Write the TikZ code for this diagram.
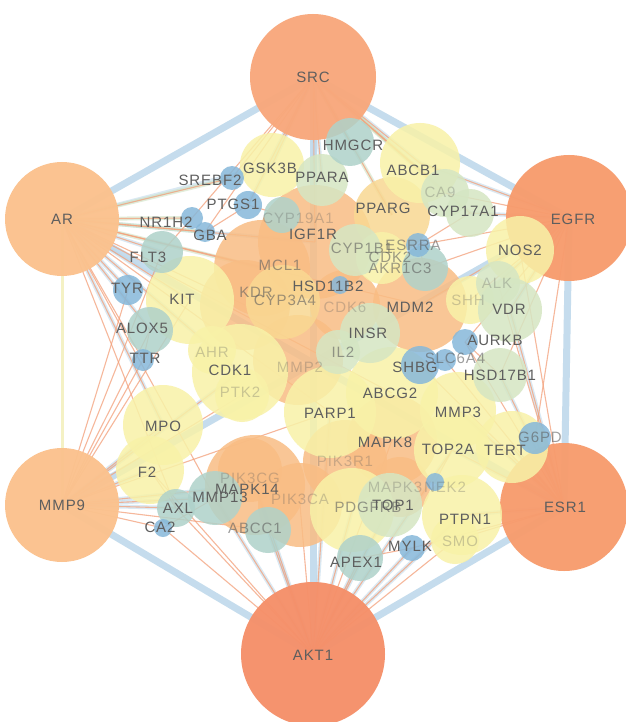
\documentclass[tikz,border=0pt]{standalone}
\usepackage{fontspec}
\setmainfont[LetterSpace=6.0]{Liberation Sans}
\pgfdeclarelayer{bglayer}
\pgfdeclarelayer{edgelayer}
\pgfdeclarelayer{textlayer}
\pgfsetlayers{bglayer,edgelayer,main,textlayer}
\definecolor{hubR}{HTML}{F5906A}
\definecolor{hubO}{HTML}{F79C6E}
\definecolor{hubS}{HTML}{F8A87C}
\definecolor{hubL}{HTML}{FBC28E}
\definecolor{orC}{HTML}{F9BD84}
\definecolor{yoC}{HTML}{F9D892}
\definecolor{yeC}{HTML}{F8F2A8}
\definecolor{grC}{HTML}{D5E6C3}
\definecolor{tlC}{HTML}{AFD2CA}
\definecolor{blC}{HTML}{86B8DA}
\definecolor{txC}{HTML}{5E5E5E}
\definecolor{eBl}{HTML}{BCD7EA}
\definecolor{eOr}{HTML}{F3A07A}
\definecolor{eGr}{HTML}{CBE0BE}
\definecolor{eYe}{HTML}{F3F0BE}
\tikzset{
 nd/.style={circle,inner sep=0pt,draw=none,fill opacity=0.85},
 hub/.style={circle,inner sep=0pt,draw=none,fill opacity=0.97},
 lbl/.style={text=txC,font=\fontsize{15}{15}\selectfont,inner sep=0pt},
 flbl/.style={lbl,text opacity=0.3},
 hlbl/.style={lbl,text opacity=0.6},
 hubedge/.style={draw=eBl,line width=7pt,draw opacity=0.85},
 yeedge/.style={draw=eYe,line width=3pt,draw opacity=0.9},
 oredge/.style={draw=eOr,line width=1.1pt,draw opacity=0.75},
 bledge/.style={draw=eBl,line width=4pt,draw opacity=0.55},
 gredge/.style={draw=eGr,line width=4pt,draw opacity=0.55},
}
\newcommand\cn[5]{\node[nd,fill=#5,minimum size={2*#4pt}] (#1) at (#2,#3) {};}
\newcommand\lb[4][lbl]{\node[#1] (#2-t) at (#3,#4) {#2};}
\begin{document}
\begin{tikzpicture}[x=1pt,y=-1pt]
\useasboundingbox (0,0) rectangle (625,722);
\begin{pgfonlayer}{bglayer}
\fill[white] (0,0) rectangle (625,722);
\end{pgfonlayer}
% hubs
\node[hub,fill=hubS,minimum size=126pt] (SRC) at (313,77) {};
\node[hub,fill=hubL,minimum size=114pt] (AR) at (62,219) {};
\node[hub,fill=hubO,minimum size=126pt] (EGFR) at (569,218) {};
\node[hub,fill=hubL,minimum size=114pt] (MMP9) at (62,505) {};
\node[hub,fill=hubO,minimum size=128pt] (ESR1) at (564,507) {};
\node[hub,fill=hubR,minimum size=144pt] (AKT1) at (313,654) {};
% orange
\cn{IGF1R}{315}{242}{57}{orC}
\cn{MCL1}{262}{268}{48}{orC}
\cn{KDR}{245}{305}{45}{orC}
\cn{MMP2}{298}{360}{45}{orC}
\cn{CDK6}{345}{305}{35}{orC}
\cn{MDM2}{420}{305}{47}{orC}
\cn{MAPK8}{392}{440}{45}{orC}
\cn{PIK3R1}{345}{462}{42}{orC}
\cn{PIK3CA}{300}{505}{42}{orC}
\cn{PIK3CG}{250}{470}{32}{orC}
\cn{MAPK14}{255}{485}{50}{orC}
\cn{MAPK3}{400}{487}{30}{orC}
% yellow-orange
\cn{PPARG}{392}{215}{38}{yoC}
\cn{CYP3A4}{283}{302}{37}{yoC}
% yellow
\cn{GSK3B}{272}{165}{32}{yeC}
\cn{ABCB1}{420}{163}{40}{yeC}
\cn{CDK2}{382}{258}{26}{yeC}
\cn{KIT}{190}{300}{44}{yeC}
\cn{SHH}{470}{300}{24}{yeC}
\cn{NOS2}{520}{250}{34}{yeC}
\cn{AHR}{212}{350}{24}{yeC}
\cn{CDK1}{240}{372}{48}{yeC}
\cn{PTK2}{242}{395}{27}{yeC}
\cn{ABCG2}{392}{393}{46}{yeC}
\cn{PARP1}{330}{412}{46}{yeC}
\cn{MPO}{163}{425}{40}{yeC}
\cn{MMP3}{458}{410}{38}{yeC}
\cn{TOP2A}{452}{450}{38}{yeC}
\cn{TERT}{512}{447}{36}{yeC}
\cn{F2}{150}{470}{34}{yeC}
\cn{PDGFRB}{352}{510}{42}{yeC}
\cn{PTPN1}{462}{515}{40}{yeC}
\cn{SMO}{455}{540}{24}{yeC}
% green
\cn{PPARA}{322}{180}{26}{grC}
\cn{CA9}{445}{193}{24}{grC}
\cn{CYP17A1}{470}{213}{24}{grC}
\cn{CYP1B1}{355}{250}{26}{grC}
\cn{ALK}{498}{283}{22}{grC}
\cn{VDR}{510}{310}{32}{grC}
\cn{INSR}{370}{333}{30}{grC}
\cn{IL2}{338}{352}{22}{grC}
\cn{HSD17B1}{500}{375}{27}{grC}
\cn{TOP1}{390}{505}{32}{grC}
% teal
\cn{HMGCR}{350}{142}{24}{tlC}
\cn{CYP19A1}{282}{215}{18}{tlC}
\cn{AKR1C3}{425}{268}{23}{tlC}
\cn{FLT3}{162}{252}{21}{tlC}
\cn{ALOX5}{150}{330}{23}{tlC}
\cn{MMP13}{215}{498}{27}{tlC}
\cn{AXL}{176}{508}{19}{tlC}
\cn{ABCC1}{268}{530}{23}{tlC}
\cn{APEX1}{360}{558}{23}{tlC}
% blue
\cn{SREBF2}{232}{178}{12}{blC}
\cn{PTGS1}{248}{205}{14}{blC}
\cn{NR1H2}{192}{218}{11}{blC}
\cn{GBA}{205}{232}{10}{blC}
\cn{TYR}{128}{290}{15}{blC}
\cn{TTR}{143}{360}{11}{blC}
\cn{HSD11B2}{340}{285}{9}{blC}
\cn{ESRRA}{418}{245}{12}{blC}
\cn{AURKB}{465}{342}{13}{blC}
\cn{SLC6A4}{445}{360}{11}{blC}
\cn{SHBG}{420}{365}{19}{blC}
\cn{G6PD}{535}{438}{16}{blC}
\cn{MYLK}{412}{548}{13}{blC}
\cn{CA2}{163}{528}{9}{blC}
\cn{NEK2}{435}{482}{9}{blC}
% edges
\begin{pgfonlayer}{edgelayer}
\draw[yeedge] (AR.center) -- (MMP9.center);
\foreach \a/\b in {SRC/AR,SRC/EGFR,EGFR/ESR1,ESR1/AKT1,AKT1/MMP9,SRC/AKT1,AR/ESR1,EGFR/MMP9}
  \draw[hubedge] (\a.center) -- (\b.center);
\foreach \t in {KIT,FLT3,TYR,ALOX5,GSK3B,IGF1R,CDK1,MPO}
  \draw[bledge] (AR.center) -- (\t.center);
\foreach \t in {NR1H2,GBA,SREBF2,MCL1}
  \draw[gredge] (AR.center) -- (\t.center);
\foreach \t in {F2,MMP13,AXL,MPO,CDK1,MAPK14}
  \draw[bledge] (MMP9.center) -- (\t.center);
\foreach \t in {APEX1,MYLK,PTPN1,TOP1,PDGFRB,MAPK14,ABCC1,MMP13,PARP1,TOP2A}
  \draw[bledge] (AKT1.center) -- (\t.center);
\foreach \t in {TERT,G6PD,MMP3,HSD17B1,PTPN1,TOP2A,VDR}
  \draw[bledge] (ESR1.center) -- (\t.center);
\foreach \t in {NOS2,VDR,CYP17A1,ABCB1,ALK}
  \draw[bledge] (EGFR.center) -- (\t.center);
\foreach \t in {HMGCR,GSK3B,PPARA,ABCB1,IGF1R,PTGS1}
  \draw[bledge] (SRC.center) -- (\t.center);
\foreach \t in {CA9,PPARG,CYP17A1}
  \draw[gredge] (SRC.center) -- (\t.center);
\foreach \t in {FLT3,TYR,ALOX5,TTR,GBA,NR1H2,KIT,CDK1,MPO,MCL1,KDR,IGF1R,MDM2,PARP1,ABCG2,MMP13,AXL,SREBF2}
  \draw[oredge] (AR.center) -- (\t.center);
\foreach \t in {F2,AXL,CA2,MMP13,MPO,TTR,ALOX5,TYR,FLT3,CDK1,PARP1,MAPK14,ABCC1,KIT,PTK2}
  \draw[oredge] (MMP9.center) -- (\t.center);
\foreach \t in {APEX1,MYLK,ABCC1,MAPK14,PDGFRB,TOP1,PARP1,MMP13,AXL,CA2,PTPN1,SMO,TOP2A,MAPK8,PIK3CA,F2}
  \draw[oredge] (AKT1.center) -- (\t.center);
\foreach \t in {G6PD,TERT,HSD17B1,PTPN1,TOP2A,MMP3,AURKB,SHBG,SLC6A4,VDR,NOS2,ALK,SMO,MYLK}
  \draw[oredge] (ESR1.center) -- (\t.center);
\foreach \t in {NOS2,ALK,VDR,CYP17A1,CA9,ESRRA,AKR1C3,MDM2,AURKB,HSD17B1,G6PD,ABCB1,SHH}
  \draw[oredge] (EGFR.center) -- (\t.center);
\foreach \t in {HMGCR,GSK3B,PPARA,ABCB1,PPARG,IGF1R,CA9,SREBF2,PTGS1,CYP17A1,NR1H2,GBA}
  \draw[oredge] (SRC.center) -- (\t.center);
\foreach \a/\b in {PTGS1/CYP19A1,GBA/PTGS1,NR1H2/FLT3,ESRRA/AKR1C3,ESRRA/CYP17A1,CA2/MMP13,AXL/F2,TTR/ALOX5,SHBG/SLC6A4,AURKB/HSD17B1,NEK2/TOP2A,MYLK/APEX1}
  \draw[oredge] (\a.center) -- (\b.center);
\end{pgfonlayer}
% labels
\begin{pgfonlayer}{textlayer}
\lb{SRC}{313}{77}
\lb{AR}{62}{219}
\lb{EGFR}{573}{219}
\lb{MMP9}{62}{505}
\lb{ESR1}{565}{507}
\lb{AKT1}{313}{655}
\lb{HMGCR}{353}{145}
\lb{GSK3B}{270}{168}
\lb{PPARA}{322}{177}
\lb{ABCB1}{413}{170}
\lb{SREBF2}{210}{180}
\lb{PTGS1}{233}{204}
\lb[flbl]{CA9}{440}{192}
\lb{CYP17A1}{463}{211}
\lb{PPARG}{383}{208}
\lb{IGF1R}{313}{234}
\lb{NR1H2}{166}{222}
\lb{GBA}{210}{235}
\lb[flbl]{CYP19A1}{298}{218}
\lb[hlbl]{CYP1B1}{362}{248}
\lb[hlbl]{CDK2}{390}{257}
\lb[hlbl]{ESRRA}{413}{245}
\lb[hlbl]{AKR1C3}{400}{268}
\lb{FLT3}{148}{257}
\lb{NOS2}{520}{250}
\lb{TYR}{127}{288}
\lb{KIT}{182}{299}
\lb[hlbl]{MCL1}{280}{265}
\lb[hlbl]{KDR}{256}{292}
\lb[hlbl]{CYP3A4}{285}{300}
\lb{HSD11B2}{328}{286}
\lb[flbl]{ALK}{497}{283}
\lb[flbl]{SHH}{468}{300}
\lb{VDR}{509}{309}
\lb{MDM2}{410}{307}
\lb[flbl]{CDK6}{345}{307}
\lb{INSR}{368}{333}
\lb[hlbl]{IL2}{343}{352}
\lb{AURKB}{495}{340}
\lb{ALOX5}{142}{328}
\lb{TTR}{145}{358}
\lb[flbl]{AHR}{212}{352}
\lb{CDK1}{230}{370}
\lb[flbl]{MMP2}{300}{367}
\lb[hlbl]{SLC6A4}{455}{358}
\lb{SHBG}{415}{367}
\lb{HSD17B1}{500}{375}
\lb[flbl]{PTK2}{240}{392}
\lb{ABCG2}{390}{393}
\lb{PARP1}{330}{413}
\lb{MPO}{163}{426}
\lb{MMP3}{458}{412}
\lb{MAPK8}{385}{442}
\lb{TOP2A}{448}{449}
\lb{TERT}{505}{450}
\lb[hlbl]{G6PD}{540}{437}
\lb{F2}{147}{472}
\lb[flbl]{PIK3CG}{250}{478}
\lb[flbl]{PIK3R1}{345}{461}
\lb{MAPK14}{247}{489}
\lb[flbl]{PIK3CA}{300}{499}
\lb[flbl]{MAPK3}{395}{487}
\lb[flbl]{NEK2}{445}{487}
\lb[hlbl]{PDGFRB}{368}{507}
\lb{TOP1}{393}{505}
\lb{PTPN1}{465}{519}
\lb[flbl]{SMO}{460}{541}
\lb{MYLK}{410}{546}
\lb{APEX1}{356}{562}
\lb{MMP13}{220}{497}
\lb{AXL}{178}{508}
\lb{CA2}{160}{527}
\lb[hlbl]{ABCC1}{255}{528}
\end{pgfonlayer}
\end{tikzpicture}
\end{document}
